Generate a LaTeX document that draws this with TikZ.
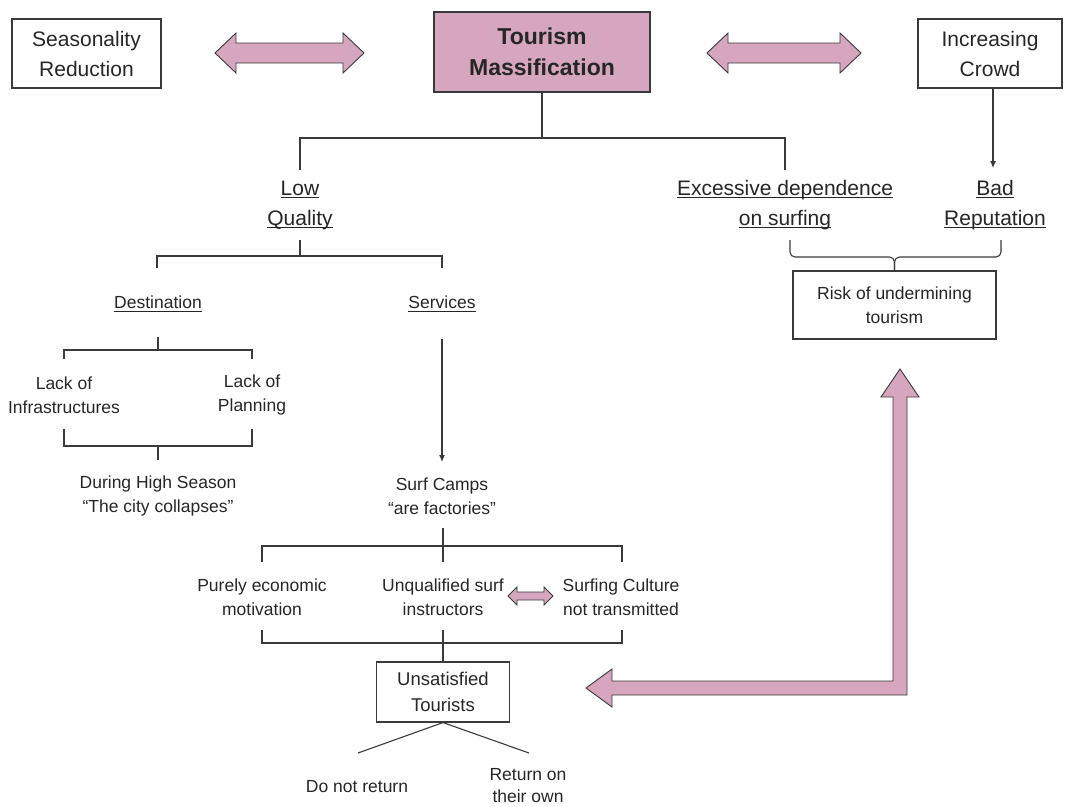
\documentclass[tikz,border=0pt]{standalone}
\usepackage{fontspec}
\setmainfont{Liberation Sans}
\usetikzlibrary{arrows.meta}
\definecolor{rosa}{HTML}{D5A6BD}
\definecolor{tratto}{HTML}{3A3A3A}
\newcommand\sottolinea[1]{\setbox0\hbox{#1}\rlap{\rule[-3pt]{\wd0}{1.1pt}}\box0}

\begin{document}
\begin{tikzpicture}[
  x=1pt, y=-1pt,
  wire/.style={draw=tratto, line width=1.1pt},
  pointer/.style={wire, -{Latex[length=7pt,width=6pt]}},
  boxed/.style={draw=tratto, line width=1.1pt, inner sep=0pt, align=center, text=black!85},
  pinkarrow/.style={fill=rosa, draw=tratto, line width=0.9pt, line join=miter},
  bigtext/.style={align=center, text=black!85, font=\fontsize{21}{30}\selectfont},
  smalltext/.style={align=center, text=black!85, font=\fontsize{17.5}{24.5}\selectfont}
]
\useasboundingbox (0,0) rectangle (1065,806);

%--------------------------------------------------------------
% Riga superiore
%--------------------------------------------------------------
\node[boxed, bigtext, minimum width=149pt, minimum height=69pt] (season) at (86.5,53.5) {Seasonality\\Reduction};
\node[boxed, fill=rosa, font=\bfseries\fontsize{23}{31}\selectfont, minimum width=216pt, minimum height=80pt] (mass) at (542,52) {Tourism\\Massification};
\node[boxed, bigtext, minimum width=144pt, minimum height=69pt] (crowd) at (990,53.5) {Increasing\\Crowd};
% frecce doppie
\filldraw[pinkarrow] (215,53) -- (236,33) -- (236,43) -- (343,43) -- (343,33) -- (364,53)
  -- (343,73) -- (343,63) -- (236,63) -- (236,73) -- cycle;
\filldraw[pinkarrow] (707,53) -- (728,33) -- (728,43) -- (840,43) -- (840,33) -- (861,53)
  -- (840,73) -- (840,63) -- (728,63) -- (728,73) -- cycle;

%--------------------------------------------------------------
% Conseguenze
%--------------------------------------------------------------
\node[bigtext] (lowq) at (300,205) {\sottolinea{Low}\\\sottolinea{Quality}};
\node[bigtext] (depend) at (785,205) {\sottolinea{Excessive dependence}\\\sottolinea{on surfing}};
\node[bigtext] (badrep) at (995,205) {\sottolinea{Bad}\\\sottolinea{Reputation}};
\coordinate (fork1) at (542,138);
\coordinate (lowq-in) at (300,170);
\coordinate (depend-in) at (785,170);
\coordinate (badrep-in) at (993,168);
\draw[wire] (mass.south) -- (fork1);
\draw[wire] (lowq-in) |- (fork1) -| (depend-in);
\draw[pointer] (crowd.south -| badrep-in) -- (badrep-in);

%--------------------------------------------------------------
% Rischio
%--------------------------------------------------------------
\node[boxed, smalltext, minimum width=203pt, minimum height=68pt] (risk) at (894.5,305) {Risk of undermining\\tourism};
\coordinate (depend-out) at (790,240);
\coordinate (badrep-out) at (1001,240);
\coordinate (brace-mid) at (894.5,257);
\draw[wire, rounded corners=5pt] (depend-out) |- (brace-mid) -- (risk.north);
\draw[wire, rounded corners=5pt] (badrep-out) |- (brace-mid) -- (risk.north);

%--------------------------------------------------------------
% Destination / Services
%--------------------------------------------------------------
\node[smalltext] (dest) at (158,304) {\sottolinea{Destination}};
\node[smalltext] (serv) at (442,304) {\sottolinea{Services}};
\coordinate (lowq-out) at (300,240);
\coordinate (fork2) at (300,256);
\coordinate (dest-in) at (157,268);
\coordinate (serv-in) at (442,268);
\draw[wire] (lowq-out) -- (fork2);
\draw[wire] (dest-in) |- (fork2) -| (serv-in);

% ramo Destination
\node[smalltext] (lackinf) at (64,395) {Lack of\\Infrastructures};
\node[smalltext] (lackplan) at (252,395) {Lack of\\Planning};
\node[smalltext] (highseason) at (158,496) {During High Season\\“The city collapses”};
\coordinate (dest-out) at (158,337);
\coordinate (fork3) at (158,350);
\coordinate (lackinf-in) at (64,359);
\coordinate (lackplan-in) at (252,359);
\draw[wire] (dest-out) -- (fork3);
\draw[wire] (lackinf-in) |- (fork3) -| (lackplan-in);
\coordinate (lackinf-out) at (64,429);
\coordinate (lackplan-out) at (252,429);
\coordinate (join1) at (158,446);
\coordinate (highseason-in) at (158,460);
\draw[wire] (lackinf-out) |- (join1) -| (lackplan-out);
\draw[wire] (join1) -- (highseason-in);

% ramo Services
\node[smalltext] (camps) at (442,496) {Surf Camps\\“are factories”};
\coordinate (serv-out) at (442,339);
\coordinate (camps-in) at (442,462);
\draw[pointer] (serv-out) -- (camps-in);

\node[smalltext] (purely) at (262,597) {Purely economic\\motivation};
\node[smalltext] (unqual) at (443,597) {Unqualified surf\\instructors};
\node[smalltext] (culture) at (621,597) {Surfing Culture\\not transmitted};
\coordinate (camps-out) at (443,528);
\coordinate (fork4) at (443,546);
\coordinate (purely-in) at (262,562);
\coordinate (unqual-in) at (443,562);
\coordinate (culture-in) at (622,562);
\draw[wire] (camps-out) -- (unqual-in);
\draw[wire] (purely-in) |- (fork4) -| (culture-in);
\filldraw[pinkarrow] (508,596) -- (517,587) -- (517,592) -- (544,592) -- (544,587) -- (553,596)
  -- (544,605) -- (544,600) -- (517,600) -- (517,605) -- cycle;

%--------------------------------------------------------------
% Turisti insoddisfatti
%--------------------------------------------------------------
\node[boxed, font=\fontsize{18.5}{26}\selectfont, minimum width=133pt, minimum height=60pt] (unsat) at (443,692) {Unsatisfied\\Tourists};
\coordinate (purely-out) at (262,630);
\coordinate (unqual-out) at (443,630);
\coordinate (culture-out) at (622,630);
\coordinate (join2) at (443,643);
\draw[wire] (purely-out) |- (join2) -| (culture-out);
\draw[wire] (unqual-out) -- (unsat.north);

\node[smalltext] (noreturn) at (357,787) {Do not return};
\node[smalltext, font=\fontsize{17.5}{22}\selectfont] (ownreturn) at (528,786) {Return on\\their own};
\coordinate (noreturn-in) at (358,753);
\coordinate (ownreturn-in) at (529,753);
\draw[wire] (noreturn-in) -- (unsat.south) -- (ownreturn-in);

% freccia grande verso il rischio
\filldraw[pinkarrow] (586,688) -- (612,669) -- (612,681) -- (893,681) -- (893,397) -- (881,397)
  -- (900,369) -- (919,397) -- (907,397) -- (907,695) -- (612,695) -- (612,707) -- cycle;

\end{tikzpicture}
\end{document}
